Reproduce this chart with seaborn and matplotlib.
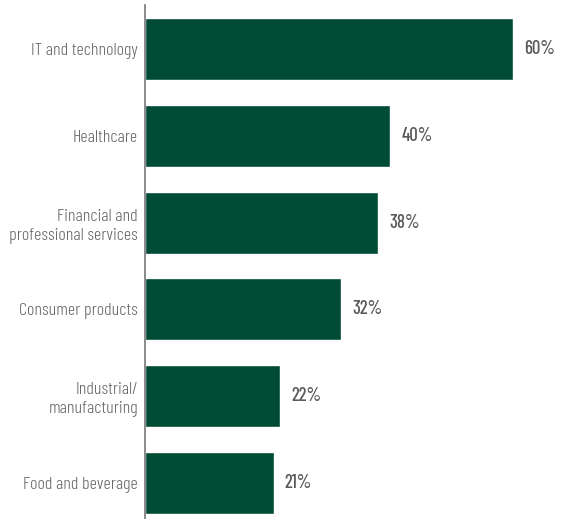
import matplotlib
matplotlib.use("Agg")
import matplotlib.pyplot as plt
import seaborn as sns
import pandas as pd

categories = ["IT and technology", "Healthcare", "Financial and\nprofessional services",
              "Consumer products", "Industrial/\nmanufacturing", "Food and beverage"]
values = [60, 40, 38, 32, 22, 21]
value_labels = ["60%", "40%", "38%", "32%", "22%", "21%"]

sns.set_style("white")
plt.rcParams['font.family'] = ['Barlow Condensed', 'DejaVu Sans']

df = pd.DataFrame({"cat": categories, "val": values})
fig = plt.figure(figsize=(5.61, 5.19), dpi=100)
ax = fig.add_axes([145/561, 0, 1 - 145/561, 1 - 5/519])
sns.barplot(data=df, x="val", y="cat", orient="h", color="#004B36", width=0.714,
            saturation=1, ax=ax)
ax.set_xlim(0, (561 - 145) / 6.13)
ax.set_ylim(5.415, -0.507)
for i, (v, lab) in enumerate(zip(values, value_labels)):
    ax.annotate(lab, (v, i), xytext=(8, 0), textcoords="offset points",
                va="center", ha="left", fontsize=13.5, fontweight=500, color="#5a5a5a")
ax.set_xlabel("")
ax.set_ylabel("")
ax.set_xticks([])
ax.tick_params(axis="y", length=0, pad=5, labelsize=13, labelcolor="#666666")
for t in ax.get_yticklabels():
    t.set_fontweight(300)
    t.set_linespacing(1.25)
for s in ["top", "right", "bottom"]:
    ax.spines[s].set_visible(False)
ax.spines["left"].set_color("#777777")
ax.spines["left"].set_linewidth(1.2)
fig.savefig("out.png", dpi=100)
